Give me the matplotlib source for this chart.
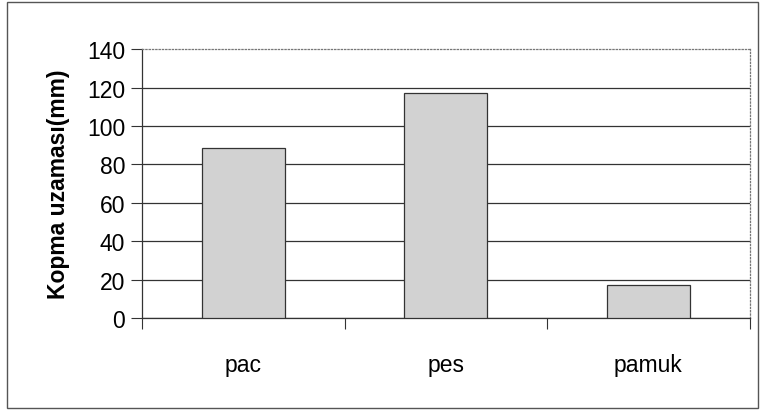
import matplotlib.pyplot as plt
import matplotlib.patches as mpatches

# Data
categories = ["pac", "pes", "pamuk"]
values = [88.5, 117, 17]
y_ticks = [0, 20, 40, 60, 80, 100, 120, 140]

plt.rcParams['font.family'] = ['Liberation Sans', 'DejaVu Sans']

fig = plt.figure(figsize=(7.65, 4.14), dpi=100)
ax = fig.add_axes([0.1856, 0.2295, 0.7944, 0.6495])

x = range(len(categories))
ax.bar(x, values, width=0.41, color='#d2d2d2', edgecolor='#333333', linewidth=0.9, zorder=3)

ax.set_xlim(-0.5, len(categories) - 0.5)
ax.set_ylim(0, 140)
ax.set_yticks(y_ticks)
ax.set_yticklabels([str(t) for t in y_ticks], fontsize=16.5)
ax.set_xticks(list(x))
ax.set_xticklabels(categories, fontsize=16.5)
ax.tick_params(axis='x', length=0, pad=25)
ax.tick_params(axis='y', length=8, width=0.8, color='#333333', pad=4)

# category boundary ticks
ax.set_xticks([i - 0.5 for i in range(len(categories) + 1)], minor=True)
ax.tick_params(axis='x', which='minor', length=8, width=0.8, color='#333333')

ax.set_ylabel("Kopma uzaması(mm)", fontsize=16.5, fontweight='bold', labelpad=12)

ax.yaxis.grid(True, color='#333333', linewidth=0.9, zorder=0)
ax.set_axisbelow(True)
ax.yaxis.get_gridlines()[-1].set_visible(False)

for side in ['left', 'bottom']:
    ax.spines[side].set_color('#333333')
    ax.spines[side].set_linewidth(0.9)
for side in ['top', 'right']:
    ax.spines[side].set_color('#777777')
    ax.spines[side].set_linestyle(':')
    ax.spines[side].set_linewidth(0.9)

# outer chart frame
frame = mpatches.Rectangle((7 / 765, 5 / 414), 751 / 765, 406 / 414, transform=fig.transFigure,
                           fill=False, edgecolor='#555555', linewidth=1.0)
fig.patches.append(frame)

fig.savefig("out.png", dpi=100)
